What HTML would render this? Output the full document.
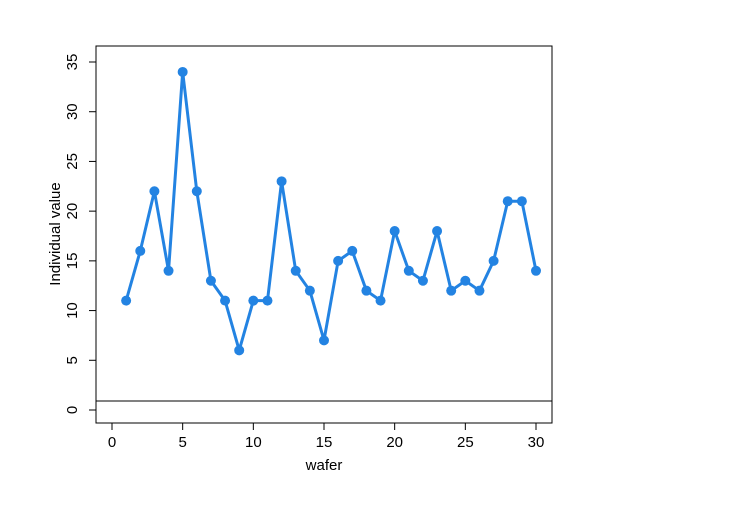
<!DOCTYPE html>
<html><head><meta charset="utf-8"><style>
body{margin:0;background:#fff;}
svg text{font-family:"Liberation Sans",sans-serif;font-size:15px;fill:#000;}
</style></head><body>
<svg id="chart" width="745" height="520">
<rect x="96" y="46" width="456" height="377" fill="none" stroke="#000" stroke-width="1"/>
<g id="xaxis"></g>
<g id="yaxis"></g>
<text x="324" y="470" text-anchor="middle">wafer</text>
<text transform="translate(60,234) rotate(-90)" text-anchor="middle">Individual value</text>
<g id="series"></g>
</svg>
<script>
const wafers = [1,2,3,4,5,6,7,8,9,10,11,12,13,14,15,16,17,18,19,20,21,22,23,24,25,26,27,28,29,30];
const values = [11,16,22,14,34,22,13,11,6,11,11,23,14,12,7,15,16,12,11,18,14,13,18,12,13,12,15,21,21,14];
const xTicks = [0,5,10,15,20,25,30];
const yTicks = [0,5,10,15,20,25,30,35];
const refLine = [0.9];
const NS="http://www.w3.org/2000/svg";
function X(v){return 112+v*(536-112)/30;}
function Y(v){return 410-v*(410-62)/35;}
function mk(t,a,p){const e=document.createElementNS(NS,t);for(const k in a)e.setAttribute(k,a[k]);p.appendChild(e);return e;}
const xa=document.getElementById('xaxis'),ya=document.getElementById('yaxis'),s=document.getElementById('series');
mk('line',{x1:X(0),x2:X(30),y1:423,y2:423,stroke:'#000'},xa);
xTicks.forEach(t=>{mk('line',{x1:X(t),x2:X(t),y1:423,y2:430,stroke:'#000'},xa);
const tx=mk('text',{x:X(t),y:447,'text-anchor':'middle'},xa);tx.textContent=t;

});
mk('line',{x1:96,x2:96,y1:Y(0),y2:Y(35),stroke:'#000'},ya);
yTicks.forEach(t=>{mk('line',{x1:89,x2:96,y1:Y(t),y2:Y(t),stroke:'#000'},ya);
const tx=mk('text',{transform:`translate(77,${Y(t)}) rotate(-90)`,'text-anchor':'middle'},ya);tx.textContent=t;

});
refLine.forEach(v=>{const l=mk('line',{x1:96,x2:552,y1:Y(v),y2:Y(v),stroke:'#000','stroke-width':1},s);

});
const pl=mk('polyline',{points:values.map((v,i)=>X(wafers[i])+','+Y(v)).join(' '),fill:'none',stroke:'#2383e2','stroke-width':3,'stroke-linejoin':'round'},s);


values.forEach((v,i)=>{const c=mk('circle',{cx:X(wafers[i]),cy:Y(v),r:5,fill:'#2383e2'},s);

});
</script>
</body></html>
